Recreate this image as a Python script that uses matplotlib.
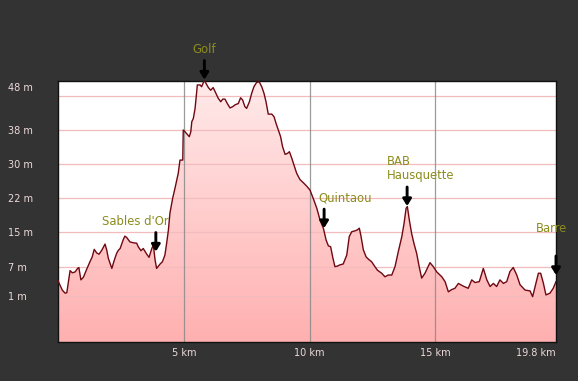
import numpy as np
import matplotlib
matplotlib.use("Agg")
import matplotlib.pyplot as plt
from matplotlib.colors import LinearSegmentedColormap

# distance along the route (km) and elevation (m)
dist_km = [0.00, 0.17, 0.28, 0.35, 0.48, 0.57, 0.68, 0.78, 0.83, 0.91, 1.01, 1.14, 1.27, 1.36,
           1.44, 1.54, 1.63, 1.74, 1.87, 1.94, 2.00, 2.14, 2.24, 2.33, 2.40, 2.47, 2.60, 2.66,
           2.73, 2.86, 2.99, 3.13, 3.19, 3.30, 3.39, 3.53, 3.62, 3.73, 3.79, 3.86, 3.92, 4.06,
           4.15, 4.25, 4.32, 4.39, 4.45, 4.56, 4.65, 4.78, 4.85, 4.96, 4.98, 5.05, 5.14, 5.22,
           5.28, 5.32, 5.38, 5.45, 5.49, 5.54, 5.65, 5.71, 5.82, 5.88, 5.98, 6.07, 6.17, 6.28,
           6.37, 6.47, 6.55, 6.64, 6.73, 6.84, 6.95, 7.04, 7.17, 7.26, 7.34, 7.43, 7.50, 7.61,
           7.70, 7.79, 7.90, 8.00, 8.10, 8.19, 8.27, 8.36, 8.50, 8.59, 8.67, 8.76, 8.85, 8.93,
           9.03, 9.12, 9.20, 9.29, 9.36, 9.49, 9.62, 9.75, 9.89, 10.02, 10.15, 10.29, 10.42,
           10.55, 10.66, 10.75, 10.84, 10.92, 11.01, 11.10, 11.21, 11.34, 11.48, 11.58, 11.68,
           11.81, 11.90, 11.98, 12.04, 12.14, 12.25, 12.34, 12.47, 12.60, 12.70, 12.87, 13.00,
           13.13, 13.27, 13.40, 13.53, 13.67, 13.76, 13.84, 13.89, 13.97, 14.06, 14.15, 14.26,
           14.36, 14.46, 14.59, 14.79, 14.92, 15.06, 15.26, 15.39, 15.52, 15.65, 15.78, 15.92,
           16.11, 16.31, 16.45, 16.58, 16.75, 16.91, 17.05, 17.18, 17.31, 17.44, 17.57, 17.71,
           17.84, 17.97, 18.10, 18.24, 18.37, 18.57, 18.77, 18.87, 18.97, 19.10, 19.19, 19.30,
           19.40, 19.56, 19.69, 19.80]
elev_m = [3.9, 1.8, 1.1, 1.2, 6.2, 5.7, 5.9, 6.7, 6.9, 4.1, 4.7, 6.5, 8.2, 9.3,
          11.0, 10.2, 9.9, 10.8, 12.2, 10.8, 9.0, 6.7, 8.6, 10.1, 10.8, 11.2, 13.3, 14.0,
          13.7, 12.7, 12.5, 12.4, 11.6, 10.7, 11.2, 9.9, 9.2, 11.2, 12.0, 8.6, 6.7, 7.7,
          8.2, 9.7, 12.4, 15.4, 19.2, 22.6, 24.8, 28.2, 31.2, 31.2, 38.0, 37.6, 37.0, 36.5,
          37.6, 39.9, 40.6, 42.9, 45.2, 48.2, 48.2, 47.8, 49.3, 48.6, 47.6, 47.0, 47.6, 46.3,
          45.2, 44.4, 45.0, 45.0, 44.0, 43.0, 43.3, 43.7, 44.0, 45.3, 44.8, 43.3, 42.9, 44.4,
          46.3, 47.8, 48.8, 48.9, 47.8, 46.3, 44.4, 41.6, 41.6, 41.0, 39.5, 38.0, 36.5, 34.2,
          32.5, 32.7, 33.1, 31.7, 30.5, 28.2, 26.8, 26.1, 25.3, 24.4, 22.5, 20.3, 17.6,
          15.8, 13.1, 11.8, 11.6, 9.3, 7.1, 7.2, 7.5, 7.7, 9.7, 13.9, 15.0,
          15.2, 15.4, 15.8, 14.2, 10.9, 9.3, 8.8, 8.2, 7.1, 6.3, 5.6, 4.8,
          5.2, 5.2, 7.1, 10.5, 13.9, 16.9, 20.3, 20.7, 17.6, 14.6, 12.4, 10.1,
          7.1, 4.5, 5.6, 8.0, 7.1, 5.9, 4.8, 3.7, 1.4, 1.9, 2.2, 3.3,
          2.7, 2.2, 4.1, 3.5, 3.7, 6.7, 4.1, 2.6, 3.3, 2.6, 4.1, 3.3,
          3.7, 6.0, 6.9, 5.2, 3.0, 1.8, 1.6, 0.3, 2.6, 5.6, 5.6, 3.3,
          0.7, 1.1, 2.2, 3.7]

# axis labels
grid_m = [45.7, 38.0, 30.3, 22.6, 14.9, 7.0, 0.45]
ytick_m = [47.7, 38.0, 30.3, 22.6, 14.9, 7.0, 0.45]
ytick_labels = ["48 m", "38 m", "30 m", "22 m", "15 m", "7 m", "1 m"]
xtick_km = [5, 10, 15, 19.8]
xtick_labels = ["5 km", "10 km", "15 km", "19.8 km"]

# points of interest: label, km, elevation at the arrow tip
poi_names = ["Sables d'Or", "Golf", "Quintaou", "BAB\nHausquette", "Barre"]
poi_km = [3.89, 5.82, 10.58, 13.88, 19.80]
poi_m = [10.5, 49.4, 15.8, 20.8, 5.2]

x_min, x_max = 0, 19.8
y_min, y_max = -9.95, 49.16

bg = "#333333"
fig = plt.figure(figsize=(5.78, 3.81), dpi=100, facecolor=bg)
ax = fig.add_axes([58 / 578, 1 - 342 / 381, 498 / 578, 261.3 / 381])
ax.set_facecolor("white")
ax.set_xlim(x_min, x_max)
ax.set_ylim(y_min, y_max)

# gradient fill under the profile
cmap = LinearSegmentedColormap.from_list("pinkfade", ["#ffb0b0", "#ffeaea"])
grad = np.linspace(0, 1, 256).reshape(-1, 1)
img = ax.imshow(grad, cmap=cmap, aspect="auto", origin="lower",
                extent=[x_min, x_max, y_min, y_max], zorder=1)
poly = ax.fill_between(dist_km, elev_m, y_min, color="none", lw=0)
img.set_clip_path(poly.get_paths()[0], transform=ax.transData)

for g in grid_m:
    ax.axhline(g, color="#f2bcbc", lw=0.9, zorder=2)
for xk in xtick_km[:-1]:
    ax.axvline(xk, color="#8a8a8a", lw=0.9, zorder=2, alpha=0.85)

ax.plot(dist_km, elev_m, color="#700812", lw=1.0, zorder=3)

for s in ax.spines.values():
    s.set_color("#111111")
    s.set_linewidth(1)

ax.set_yticks(ytick_m)
ax.set_yticklabels(ytick_labels)
ax.set_xticks(xtick_km)
ax.set_xticklabels(xtick_labels)
ax.tick_params(length=0, labelsize=7, colors="#eedada")
ax.tick_params(axis="y", pad=36)
for lab in ax.get_yticklabels():
    lab.set_horizontalalignment("left")
ax.get_xticklabels()[-1].set_horizontalalignment("right")
ax.tick_params(axis="x", pad=4)

# label offsets (points) relative to the arrow tip
text_color = "#8c8c1e"
label_dx = {"Sables d'Or": -14.8, "Golf": 0, "Quintaou": 14.9,
            "BAB\nHausquette": -14.9, "Barre": -2.9}
label_dy = {"Barre": 28.5}
for name, km, m in zip(poi_names, poi_km, poi_m):
    ha = "left" if name.startswith("BAB") else "center"
    ax.annotate("", xy=(km, m), xytext=(0, 13.7), textcoords="offset points",
                arrowprops=dict(arrowstyle="-|>,head_width=0.25,head_length=0.4",
                                color="black", lw=2.1, shrinkA=0, shrinkB=0),
                annotation_clip=False, zorder=5)
    ax.annotate(name, xy=(km, m), xytext=(label_dx[name], label_dy.get(name, 17.0)),
                textcoords="offset points", ha=ha, va="bottom", color=text_color,
                fontsize=8.4, annotation_clip=False, zorder=5, linespacing=1.1)

fig.savefig("out.png", dpi=100, facecolor=bg)
